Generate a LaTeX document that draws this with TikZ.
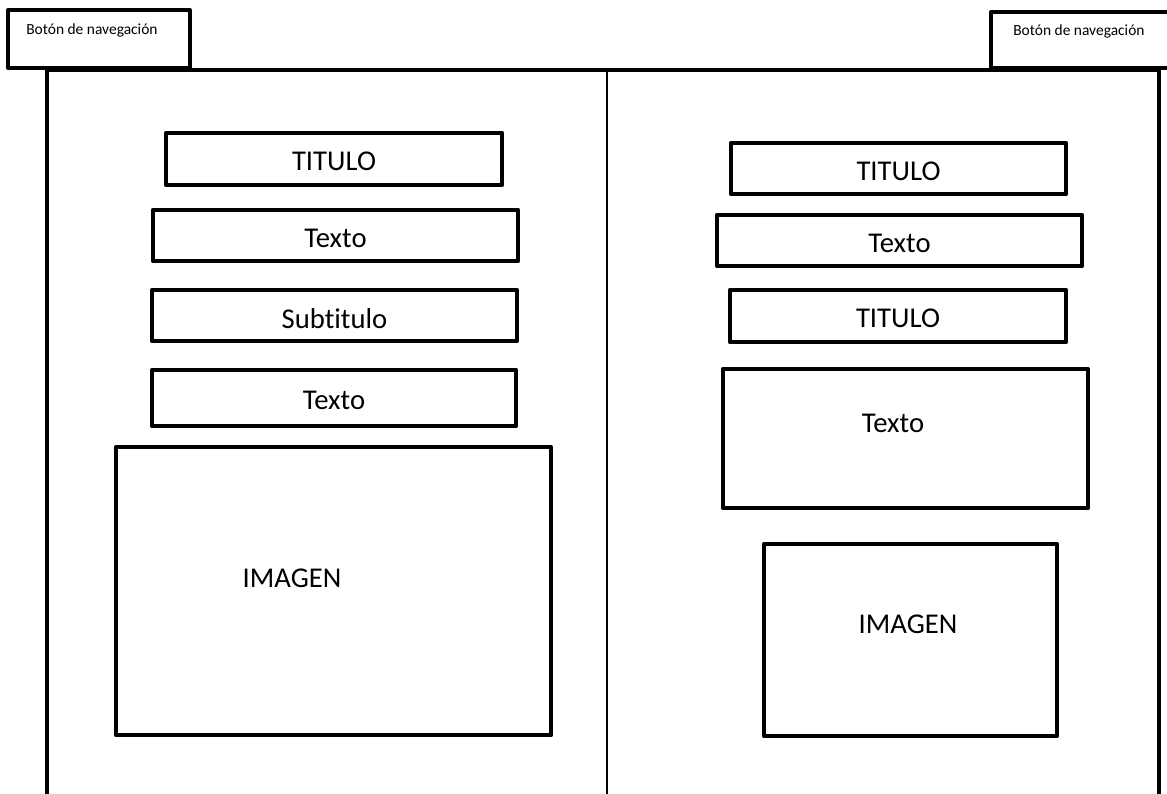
\documentclass[tikz,border=0pt]{standalone}
\usepackage{fontspec}
\setmainfont{Carlito}[Ligatures=NoCommon]
\usetikzlibrary{fit}

\begin{document}
\begin{tikzpicture}[x=0.75pt,y=-0.75pt]
\tikzset{
  navbtn/.style={draw=black,line width=3pt,line join=round,inner sep=0pt},
  navtext/.style={anchor=west,inner sep=0pt,font=\fontsize{11.6}{13}\selectfont},
  panelbox/.style={draw=black,line width=3.6pt,line join=round,inner sep=0pt},
  boxtext/.style={inner sep=0pt,font=\fontsize{21.5}{24}\selectfont},
  frameline/.style={draw=black,line width=3pt,line join=round},
  divider/.style={draw=black,line width=1.5pt}
}
\useasboundingbox (0,0) rectangle (1167,793);
% botones de navegacion
\node[navbtn,fit={(8,10) (190,68)}] (navLeft) {};
\node[navbtn,fit={(991,12) (1172,68)}] (navRight) {};
\node[navtext] (navLeftTxt) at (26,30) {Botón de navegación};
\node[navtext] (navRightTxt) at (1013,31) {Botón de navegación};
% marco
\coordinate (frameBL) at (47,797);
\coordinate (frameBR) at (1159,797);
\coordinate (midTop) at (607,69);
\coordinate (midBot) at (607,797);
\draw[frameline] (frameBL) |- (navLeft.south east) -- (navRight.south west) -| (frameBR);
\draw[divider] (midTop) -- (midBot);
% columna izquierda
\node[panelbox,fit={(166,133) (502,185)}] (lTitulo) {};
\node[panelbox,fit={(153,210) (518,261)}] (lTexto) {};
\node[panelbox,fit={(152,290) (517,341)}] (lSubtitulo) {};
\node[panelbox,fit={(152,370) (516,426)}] (lTextoB) {};
\node[panelbox,fit={(116,447) (551,735)}] (lImagen) {};
\node[boxtext] (lTituloTxt) at ([yshift=-2pt]lTitulo.center) {TITULO};
\node[boxtext] (lTextoTxt) at ([yshift=-2pt]lTexto.center) {Texto};
\node[boxtext] (lSubtituloTxt) at ([yshift=-2pt]lSubtitulo.center) {Subtitulo};
\node[boxtext] (lTextoBTxt) at ([yshift=-2pt]lTextoB.center) {Texto};
\node[boxtext] (lImagenTxt) at (292,578) {IMAGEN};
% columna derecha
\node[panelbox,fit={(731,143) (1066,194)}] (rTitulo) {};
\node[panelbox,fit={(717,215) (1082,266)}] (rTexto) {};
\node[panelbox,fit={(730,290) (1066,342)}] (rTituloB) {};
\node[panelbox,fit={(723,369) (1088,508)}] (rTextoB) {};
\node[panelbox,fit={(764,544) (1057,736)}] (rImagen) {};
\node[boxtext] (rTituloTxt) at ([yshift=-2pt]rTitulo.center) {TITULO};
\node[boxtext] (rTextoTxt) at ([yshift=-2pt]rTexto.center) {Texto};
\node[boxtext] (rTituloBTxt) at ([yshift=-2pt]rTituloB.center) {TITULO};
\node[boxtext] (rTextoBTxt) at (893,423) {Texto};
\node[boxtext] (rImagenTxt) at (908,624) {IMAGEN};
\end{tikzpicture}
\end{document}
